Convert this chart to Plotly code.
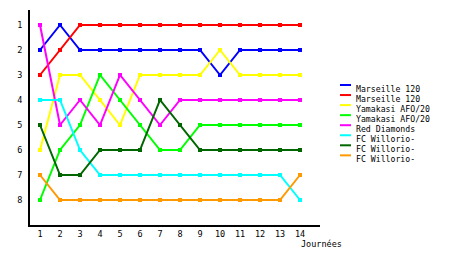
import plotly.graph_objects as go

rounds = list(range(1, 15))
names = ["Marseille 120", "Marseille 120", "Yamakasi AFO/20", "Yamakasi AFO/20",
         "Red Diamonds", "FC Willorio-", "FC Willorio-", "FC Willorio-"]
colors = ["#0000ff", "#ff0000", "#ffff00", "#00ff00", "#ff00ff", "#00ffff", "#006600", "#ff9900"]
marseille_a = [2, 1, 2, 2, 2, 2, 2, 2, 2, 3, 2, 2, 2, 2]
marseille_b = [3, 2, 1, 1, 1, 1, 1, 1, 1, 1, 1, 1, 1, 1]
yamakasi_a = [6, 3, 3, 4, 5, 3, 3, 3, 3, 2, 3, 3, 3, 3]
yamakasi_b = [8, 6, 5, 3, 4, 5, 6, 6, 5, 5, 5, 5, 5, 5]
red_diamonds = [1, 5, 4, 5, 3, 4, 5, 4, 4, 4, 4, 4, 4, 4]
willorio_a = [4, 4, 6, 7, 7, 7, 7, 7, 7, 7, 7, 7, 7, 8]
willorio_b = [5, 7, 7, 6, 6, 6, 4, 5, 6, 6, 6, 6, 6, 6]
willorio_c = [7, 8, 8, 8, 8, 8, 8, 8, 8, 8, 8, 8, 8, 7]
series = [marseille_a, marseille_b, yamakasi_a, yamakasi_b,
          red_diamonds, willorio_a, willorio_b, willorio_c]
y_ticks = list(range(1, 9))
x_label = "Journées"

FONT = "DejaVu Sans Mono"
fig = go.Figure()
for name, col, vals in zip(names, colors, series):
    fig.add_trace(go.Scatter(x=rounds, y=vals, mode="lines+markers", name=name,
                             line=dict(color=col, width=2),
                             marker=dict(color=col, size=4, symbol="square"),
                             showlegend=False))

L, R, T, B = 30, 140, 10, 30
W, H = 460, 255
pw = W - L - R
ph = H - T - B

def px_x(p):
    return (p - L) / pw

def px_y(p):
    return (H - B - p) / ph

for i, (name, col) in enumerate(zip(names, colors)):
    yl = 85 + i * 10.05
    fig.add_shape(type="line", xref="paper", yref="paper",
                  x0=px_x(340), x1=px_x(351), y0=px_y(yl), y1=px_y(yl),
                  line=dict(color=col, width=2))
    fig.add_annotation(xref="paper", yref="paper", x=px_x(354), y=px_y(yl + 4),
                       text=name, showarrow=False, xanchor="left", yanchor="middle",
                       font=dict(family=FONT, size=8.2, color="black"))

fig.add_annotation(xref="paper", yref="paper", x=px_x(299), y=px_y(244),
                   text=x_label, showarrow=False, xanchor="left", yanchor="middle",
                   font=dict(family=FONT, size=8.5, color="black"))

fig.update_layout(width=W, height=H, margin=dict(l=L, r=R, t=T, b=B),
                  paper_bgcolor="white", plot_bgcolor="white",
                  font=dict(family=FONT, size=8.5, color="black"))
fig.update_xaxes(range=[0.5, 15], tickvals=rounds, showgrid=False, zeroline=False,
                 showline=True, linecolor="black", linewidth=2, ticks="", ticklen=0,
                 ticklabelstandoff=0)
fig.update_yaxes(range=[9, 0.4], tickvals=y_ticks, showgrid=False, zeroline=False,
                 showline=True, linecolor="black", linewidth=2, ticks="", ticklen=0,
                 ticklabelstandoff=4)
fig.write_html("out.html")
